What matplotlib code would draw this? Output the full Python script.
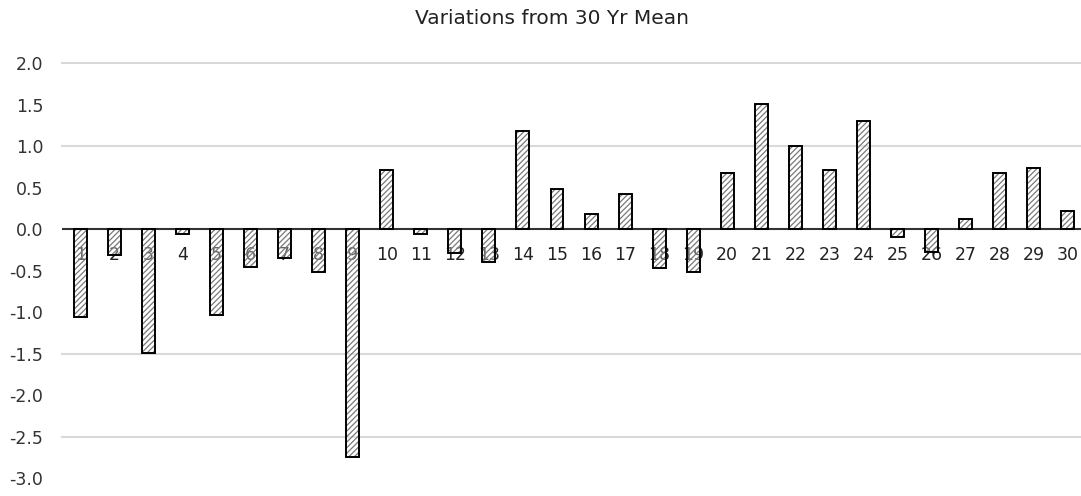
import matplotlib
matplotlib.use("Agg")
import matplotlib.pyplot as plt

# yearly departures from the 30-year mean
years = list(range(1, 31))
variation = [-1.06, -0.31, -1.49, -0.06, -1.03, -0.45, -0.35, -0.52, -2.74, 0.71,
             -0.06, -0.29, -0.39, 1.19, 0.49, 0.19, 0.43, -0.47, -0.52, 0.68,
             1.51, 1.00, 0.71, 1.30, -0.09, -0.27, 0.13, 0.68, 0.74, 0.22]
y_ticks = [2.0, 1.5, 1.0, 0.5, 0.0, -0.5, -1.0, -1.5, -2.0, -2.5, -3.0]
grid_levels = [2.0, 1.0, -1.5, -2.5]

plt.rcParams["font.family"] = "DejaVu Sans"
plt.rcParams["hatch.linewidth"] = 0.9

fig = plt.figure(figsize=(10.81, 4.96), dpi=100)
ax = fig.add_axes([0.0574, 0.0357, 0.9426, 0.8367])

for lvl in grid_levels:
    ax.axhline(lvl, color="#d9d9d9", lw=1.5, zorder=0, clip_on=False)
ax.axhline(0, color="#333333", lw=1.5, zorder=3)

# category labels sit just under the zero line, partly behind the bars
for x in years:
    ax.annotate(str(x), (x, 0), xytext=(0, -18.5), textcoords="offset points",
                ha="center", va="center", fontsize=12.5, color="#222222", zorder=1)

ax.bar(years, variation, width=0.38, facecolor=(1, 1, 1, 0.3), edgecolor="#7a7a7a",
       hatch="//////", lw=0, zorder=2)
ax.bar(years, variation, width=0.38, facecolor="none", edgecolor="black",
       lw=1.4, zorder=4)

ax.set_xlim(0.463, 30.39)
ax.set_ylim(-3.0, 2.0)
ax.set_yticks(y_ticks)
ax.set_yticklabels([f"{t:.1f}" for t in y_ticks], fontsize=12.5, color="#333333")
ax.tick_params(axis="y", length=0, pad=13.5)
ax.set_xticks([])
for s in ax.spines.values():
    s.set_visible(False)

fig.text(552 / 1081, 1 - 18 / 496, "Variations from 30 Yr Mean",
         ha="center", va="center", fontsize=14.5, color="#222222")

fig.savefig("out.png", dpi=100)
